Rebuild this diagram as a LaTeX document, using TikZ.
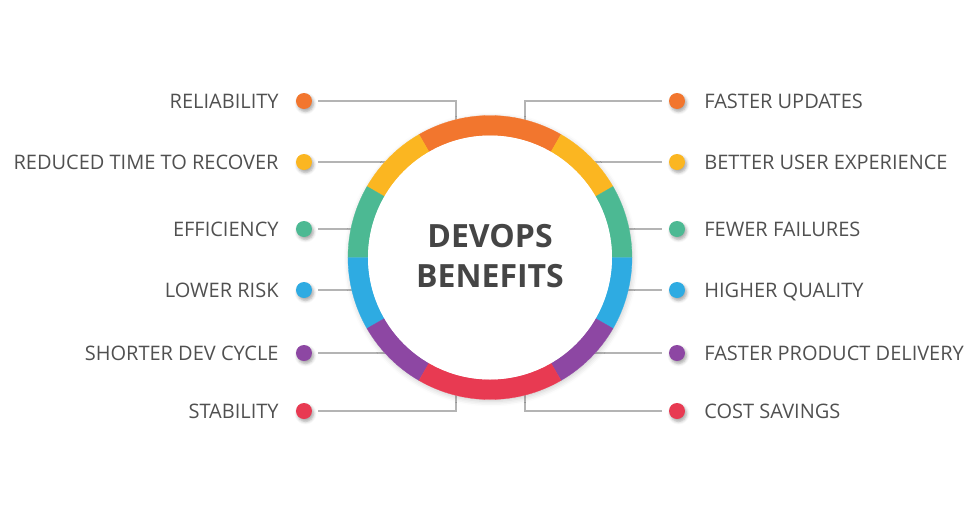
\documentclass[tikz,border=0pt]{standalone}
\usepackage{fontspec}
\setmainfont{Open Sans}
\usetikzlibrary{positioning,shadows.blur}
\definecolor{cOrange}{HTML}{F2762E}
\definecolor{cYellow}{HTML}{FBB621}
\definecolor{cGreen}{HTML}{4CB993}
\definecolor{cBlue}{HTML}{2EABE2}
\definecolor{cPurple}{HTML}{8D47A3}
\definecolor{cRed}{HTML}{E83A52}
\definecolor{txtgray}{HTML}{505050}
\definecolor{titlegray}{HTML}{454545}
\definecolor{linegray}{HTML}{B4B4B4}
\begin{document}
\begin{tikzpicture}[x=1pt,y=1pt,
	dot/.style={circle,fill=#1,minimum size=16pt,inner sep=0pt,
		blur shadow={shadow xshift=1.5pt,shadow yshift=-2.5pt,shadow blur radius=3pt,shadow opacity=35}},
	lbl/.style={inner sep=0pt,text depth=0pt,text=txtgray,font=\fontsize{20}{24}\selectfont},
	link/.style={draw=linegray,line width=1.5pt}]
	\useasboundingbox (-490,-265.5) rectangle (487,257.5);
	\coordinate (ctr) at (0,0);
	\coordinate (tl) at (-34,0);
	\coordinate (tr) at (35,0);
	\foreach \n/\y/\c in {1/156.5/cOrange,2/95.5/cYellow,3/28.5/cGreen,4/-32.5/cBlue,5/-95.5/cPurple,6/-153.5/cRed}{
		\node[dot=\c] (l\n) at (-186,\y) {};
		\node[dot=\c] (r\n) at (187,\y) {};
	}
	\node[lbl,left=17pt of l1] {RELIABILITY};
	\node[lbl,left=17pt of l2] {REDUCED TIME TO RECOVER};
	\node[lbl,left=17pt of l3] {EFFICIENCY};
	\node[lbl,left=17pt of l4] {LOWER RISK};
	\node[lbl,left=17pt of l5] {SHORTER DEV CYCLE};
	\node[lbl,left=17pt of l6] {STABILITY};
	\node[lbl,right=19pt of r1] {FASTER UPDATES};
	\node[lbl,right=19pt of r2] {BETTER USER EXPERIENCE};
	\node[lbl,right=19pt of r3] {FEWER FAILURES};
	\node[lbl,right=19pt of r4] {HIGHER QUALITY};
	\node[lbl,right=19pt of r5] {FASTER PRODUCT DELIVERY};
	\node[lbl,right=19pt of r6] {COST SAVINGS};
	\draw[link,shorten <=6pt] (l1.east) -| (tl);
	\draw[link,shorten <=6pt] (l6.east) -| (tl);
	\draw[link,shorten <=7pt] (r1.west) -| (tr);
	\draw[link,shorten <=7pt] (r6.west) -| (tr);
	\foreach \n in {2,3,4,5}{
		\draw[link,shorten <=6pt] (l\n.east) -- (l\n -| ctr);
		\draw[link,shorten <=7pt] (r\n.west) -- (r\n -| ctr);
	}
	\fill[white,blur shadow={shadow xshift=1pt,shadow yshift=-2pt,shadow blur radius=5pt,shadow opacity=20}] (ctr) circle (142);
	\foreach \a/\b/\c in {60/120/cOrange,30/60/cYellow,120/150/cYellow,0/30/cGreen,150/180/cGreen,-30/0/cBlue,180/210/cBlue,-60/-30/cPurple,210/240/cPurple,240/300/cRed}
		\fill[\c,draw=\c,line width=.3pt] (\a:142) arc[start angle=\a,end angle=\b,radius=142] -- (\b:122) arc[start angle=\b,end angle=\a,radius=122] -- cycle;
	\fill[white] (ctr) circle (122);
	\node[text=titlegray,align=center,font=\bfseries\fontsize{32}{40}\selectfont] (title) at (0,1) {DEVOPS\\BENEFITS};
\end{tikzpicture}
\end{document}
